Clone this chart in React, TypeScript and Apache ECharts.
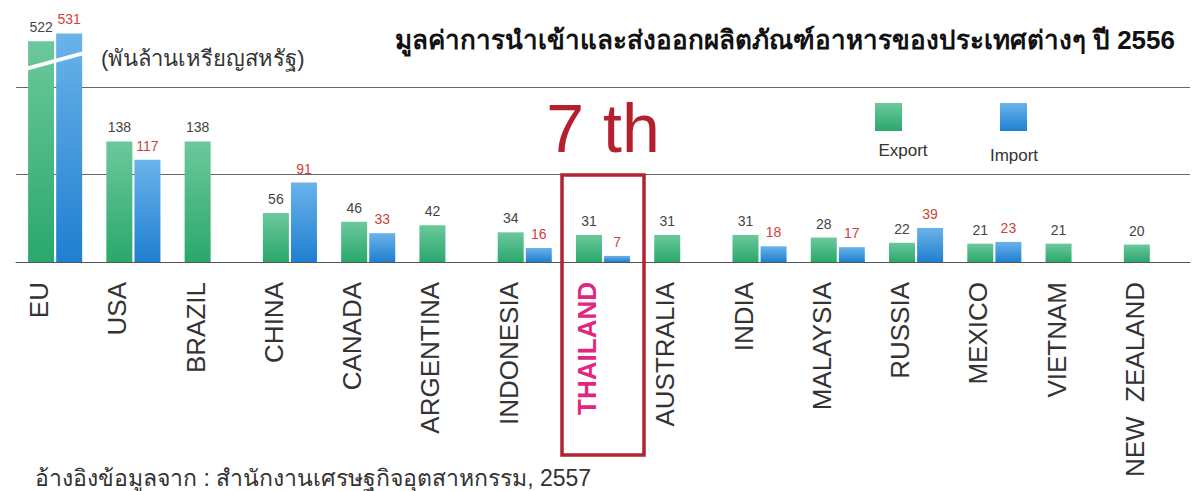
import React, { useEffect, useRef } from "react";
import * as echarts from "echarts";

const categories = ["EU", "USA", "BRAZIL", "CHINA", "CANADA", "ARGENTINA", "INDONESIA", "THAILAND", "AUSTRALIA", "INDIA", "MALAYSIA", "RUSSIA", "MEXICO", "VIETNAM", "NEW  ZEALAND"];
const exportVals = [522, 138, 138, 56, 46, 42, 34, 31, 31, 31, 28, 22, 21, 21, 20];
const importVals: (number | null)[] = [531, 117, null, 91, 33, null, 16, 7, null, 18, 17, 39, 23, null, null];
const gridValues = [100, 200];
const seriesNames = ["Export", "Import"];
const titleText = "มูลค่าการนำเข้าและส่งออกผลิตภัณฑ์อาหารของประเทศต่างๆ ปี 2556";
const unitText = "(พันล้านเหรียญสหรัฐ)";
const sourceText = "อ้างอิงข้อมูลจาก : สำนักงานเศรษฐกิจอุตสาหกรรม, 2557";
const highlightCategory = "THAILAND";
const rankText = "7 th";
const breakRange = { start: 225, end: 505 };

const FONT = "'Liberation Sans', Arial, sans-serif";

export default function App() {
  const ref = useRef<HTMLDivElement>(null);
  useEffect(() => {
    if (!ref.current) return;
    const chart = echarts.init(ref.current, null, { renderer: "svg" });
    const greenGrad = new echarts.graphic.LinearGradient(0, 0, 0, 1, [
      { offset: 0, color: "#6cc89c" },
      { offset: 1, color: "#2aa86c" },
    ]);
    const blueGrad = new echarts.graphic.LinearGradient(0, 0, 0, 1, [
      { offset: 0, color: "#6ab3ea" },
      { offset: 1, color: "#1f7fd0" },
    ]);
    const top = 30;
    const bottom = 491 - 262;
    chart.setOption({
      animation: false,
      backgroundColor: "#ffffff",
      textStyle: { fontFamily: FONT },
      title: [
        { text: titleText, right: 12, top: 22, textStyle: { fontSize: 26, fontWeight: "bold", color: "#111", fontFamily: FONT } },
        { text: unitText, left: 96, top: 42, textStyle: { fontSize: 22, fontWeight: "normal", color: "#333", fontFamily: FONT } },
        { text: sourceText, left: 30, top: 461, textStyle: { fontSize: 23, fontWeight: "normal", color: "#333", fontFamily: FONT } },
      ],
      grid: [
        { left: 16, right: 2, top, bottom, containLabel: false },
        { left: 0, right: 18, top, bottom, containLabel: false },
      ],
      xAxis: [
        {
          type: "category", gridIndex: 0, data: categories,
          axisLine: { show: true, lineStyle: { color: "#555", width: 1 } },
          axisTick: { show: false }, axisLabel: { show: false }, splitLine: { show: false },
        },
        {
          type: "category", gridIndex: 1, data: categories,
          axisLine: { show: false }, axisTick: { show: false }, splitLine: { show: false },
          axisLabel: {
            show: true, rotate: 90, margin: 20, fontSize: 26, color: "#333", fontFamily: FONT, interval: 0,
            formatter: (v: string) => (v === highlightCategory ? `{hl|${v}}` : v),
            rich: { hl: { color: "#e2267f", fontWeight: "bold", fontSize: 26, fontFamily: FONT } },
          },
        },
      ],
      yAxis: [
        {
          type: "value", gridIndex: 0, min: 0, max: 535, interval: 100,
          breaks: [{ start: breakRange.start, end: breakRange.end, gap: "4%" }],
          breakArea: { show: false },
          axisLine: { show: false }, axisTick: { show: false }, axisLabel: { show: false },
          splitLine: { show: false },
        },
        { type: "value", gridIndex: 1, show: false, min: 0, max: 535, splitLine: { show: false } },
      ],
      series: [
        {
          name: seriesNames[0], type: "bar", xAxisIndex: 0, yAxisIndex: 0, data: exportVals, z: 3,
          barWidth: 26, barGap: "8%", itemStyle: { color: greenGrad },
          label: { show: true, position: "top", distance: 7, fontSize: 14, color: "#444", fontFamily: FONT },
          markLine: {
            silent: true, symbol: "none", z: 1, animation: false,
            label: { show: false },
            lineStyle: { color: "#666", width: 1, type: "solid" },
            data: gridValues.map((v) => ({ yAxis: v })),
          },
        },
        {
          name: seriesNames[1], type: "bar", xAxisIndex: 0, yAxisIndex: 0, data: importVals, z: 3,
          barWidth: 26, barGap: "8%", itemStyle: { color: blueGrad },
          label: { show: true, position: "top", distance: 7, fontSize: 14, color: "#d0413b", fontFamily: FONT },
        },
      ],
    });

    const euX = chart.convertToPixel({ xAxisIndex: 0 }, categories[0]) as number;
    const yB1 = chart.convertToPixel({ yAxisIndex: 0 }, breakRange.start) as number;
    const yB2 = chart.convertToPixel({ yAxisIndex: 0 }, breakRange.end) as number;
    const yMid = (yB1 + yB2) / 2;
    const hx = chart.convertToPixel({ xAxisIndex: 0 }, highlightCategory) as number;

    chart.setOption({
      graphic: [
        {
          type: "line", z: 100,
          shape: { x1: euX - 33, y1: yMid + 9, x2: euX + 33, y2: yMid - 9 },
          style: { stroke: "#ffffff", lineWidth: 4 },
        },
        {
          type: "rect", z: 100,
          shape: { x: hx - 41, y: 175, width: 82, height: 280 },
          style: { fill: "none", stroke: "#b0232f", lineWidth: 3.5 },
        },
        {
          type: "text", z: 100,
          style: { text: rankText, x: hx, y: 128, align: "center", verticalAlign: "middle", textAlign: "center", textVerticalAlign: "middle", fontSize: 68, fontFamily: FONT, fill: "#b5202e" },
        },
        {
          type: "rect", z: 100,
          shape: { x: 875, y: 103, width: 27, height: 28 },
          style: { fill: greenGrad },
        },
        {
          type: "text", z: 100,
          style: { text: seriesNames[0], x: 903, y: 150, align: "center", verticalAlign: "middle", textAlign: "center", textVerticalAlign: "middle", fontSize: 17, fontFamily: FONT, fill: "#333" },
        },
        {
          type: "rect", z: 100,
          shape: { x: 1000, y: 103, width: 27, height: 28 },
          style: { fill: blueGrad },
        },
        {
          type: "text", z: 100,
          style: { text: seriesNames[1], x: 1014, y: 155, align: "center", verticalAlign: "middle", textAlign: "center", textVerticalAlign: "middle", fontSize: 17, fontFamily: FONT, fill: "#333" },
        },
      ],
    });
    return () => chart.dispose();
  }, []);
  return <div ref={ref} style={{ position: "absolute", left: 0, top: 0, width: 1192, height: 491 }} />;
}
